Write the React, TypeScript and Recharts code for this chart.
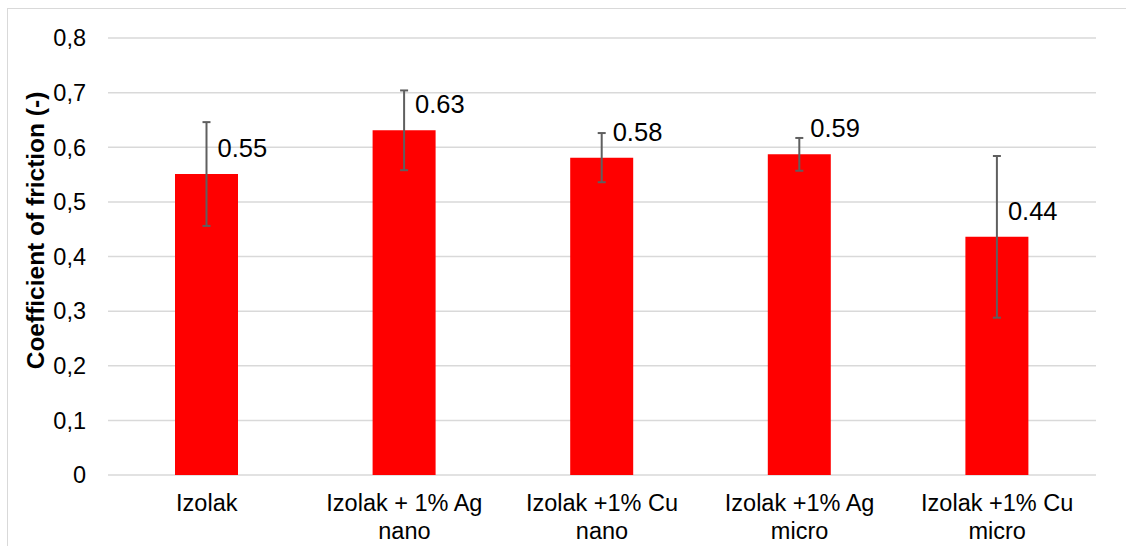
import { BarChart, Bar, XAxis, YAxis, CartesianGrid, ErrorBar, LabelList, Label } from "recharts";

const categories = [
  "Izolak",
  "Izolak + 1% Ag nano",
  "Izolak +1% Cu nano",
  "Izolak +1% Ag micro",
  "Izolak +1% Cu micro",
];
const friction = [0.551, 0.631, 0.581, 0.587, 0.436];
const deviation = [0.095, 0.073, 0.045, 0.03, 0.148];
const yTicks = [0, 0.1, 0.2, 0.3, 0.4, 0.5, 0.6, 0.7, 0.8];

const data = categories.map((name, i) => ({
  name,
  value: friction[i],
  err: deviation[i],
}));

const FONT = "'Liberation Sans', Arial, sans-serif";

// break "Izolak +1% Cu micro" into two lines like Excel does
const CategoryTick = (props: any) => {
  const { x, y, payload } = props;
  const text: string = payload.value;
  const cut = text.lastIndexOf(" ");
  const lines = text.length > 10 ? [text.slice(0, cut), text.slice(cut + 1)] : [text];
  return (
    <text x={x} y={y + 36} textAnchor="middle" fontFamily={FONT} fontSize={23.5} fill="#000">
      {lines.map((l, i) => (
        <tspan key={i} x={x} dy={i === 0 ? 0 : 27.6}>
          {l}
        </tspan>
      ))}
    </text>
  );
};

const ValueLabel = (props: any) => {
  const { x, y, width, value } = props;
  return (
    <text
      x={x + width / 2 + 11}
      y={y - 26}
      dy="0.355em"
      fontFamily={FONT}
      fontSize={25.5}
      fill="#000"
    >
      {Number(value).toFixed(2)}
    </text>
  );
};

const AxisTitle = (props: any) => {
  const { viewBox } = props;
  const cx = viewBox.x + 35;
  const cy = viewBox.y + viewBox.height / 2 - 26;
  return (
    <text
      x={cx}
      y={cy}
      transform={`rotate(-90 ${cx} ${cy})`}
      textAnchor="middle"
      dy="0.355em"
      fontFamily={FONT}
      fontWeight="bold"
      fontSize={24.5}
      fill="#000"
    >
      Coefficient of friction (-)
    </text>
  );
};

export default function App() {
  return (
    <div style={{ position: "fixed", left: 0, top: 0, width: 1126, height: 546, background: "#fff", overflow: "hidden" }}>
      <div
        style={{
          position: "absolute",
          left: 7,
          top: 8,
          width: 1140,
          height: 560,
          border: "1px solid #d9d9d9",
        }}
      />
      <BarChart
        width={1126}
        height={546}
        data={data}
        margin={{ top: 38, right: 30, bottom: 0, left: 0 }}
        style={{ position: "absolute", left: 0, top: 0 }}
      >
        <CartesianGrid vertical={false} stroke="#d9d9d9" strokeWidth={1.5} />
        <XAxis
          dataKey="name"
          height={71}
          axisLine={false}
          tickLine={false}
          tickSize={0}
          tickMargin={0}
          interval={0}
          tick={<CategoryTick />}
        />
        <YAxis
          width={108}
          domain={[0, 0.8]}
          ticks={yTicks}
          axisLine={false}
          tickLine={false}
          tickSize={0}
          tickMargin={22}
          tick={{ fontFamily: FONT, fontSize: 23.5, fill: "#000" }}
          tickFormatter={(v: number) => String(v).replace(".", ",")}
        >
          <Label content={<AxisTitle />} />
        </YAxis>
        <Bar dataKey="value" fill="#ff0000" barSize={63} isAnimationActive={false}>
          <ErrorBar dataKey="err" stroke="#5f5f5f" strokeWidth={2} width={4} />
          <LabelList dataKey="value" content={<ValueLabel />} />
        </Bar>
      </BarChart>
    </div>
  );
}
